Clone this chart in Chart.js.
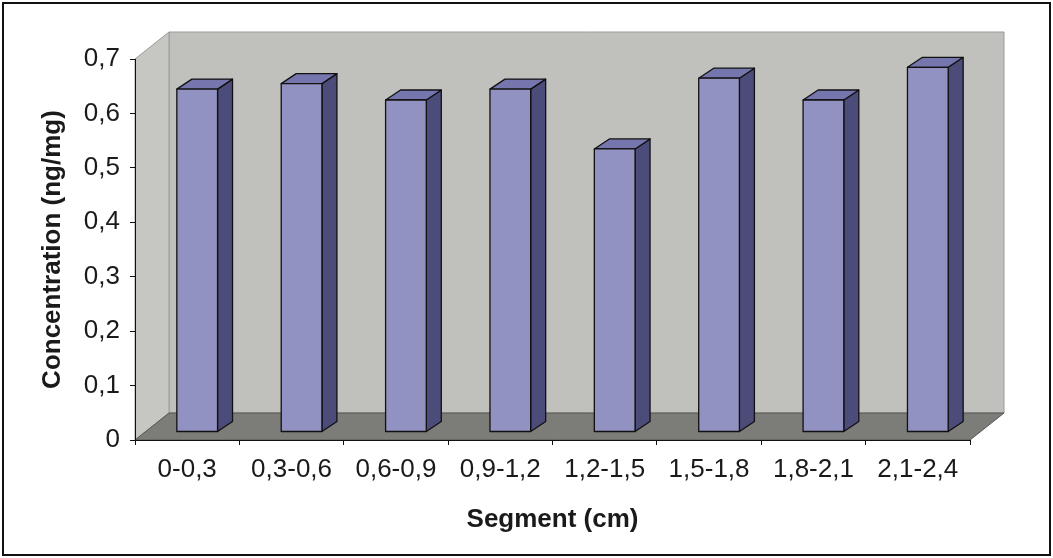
<!DOCTYPE html>
<html>
<head>
<meta charset="utf-8">
<script src="https://cdn.jsdelivr.net/npm/chart.js@4/dist/chart.umd.min.js"></script>
<style>
  html, body { margin: 0; padding: 0; background: #fff; }
  #wrap { width: 1053px; height: 558px; }
</style>
</head>
<body>
<div id="wrap"><canvas id="chart" width="1053" height="558"></canvas></div>
<script>
// data
const segments = ['0-0,3', '0,3-0,6', '0,6-0,9', '0,9-1,2', '1,2-1,5', '1,5-1,8', '1,8-2,1', '2,1-2,4'];
const concentration = [0.63, 0.64, 0.61, 0.63, 0.52, 0.65, 0.61, 0.67];
const yTickLabels = ['0', '0,1', '0,2', '0,3', '0,4', '0,5', '0,6', '0,7'];

// fake 3D look (Excel style): wall depth and bar depth in px
const WALL = { dx: 34, dy: 27 };
const BAR = { fx: 10, fy: 8, sx: 15, sy: 10 };

const COLORS = {
  back: '#c0c0bc',
  side: '#c6c6c2',
  floor: '#7c7c78',
  wallEdge: '#9a9a96',
  front: '#9292c2',
  top: '#7676ae',
  barSide: '#4c4c7a'
};

const FONT = 'Arial, "Liberation Sans", sans-serif';

function poly(ctx, pts, fill, stroke, lw) {
  ctx.beginPath();
  ctx.moveTo(pts[0][0], pts[0][1]);
  for (let i = 1; i < pts.length; i++) ctx.lineTo(pts[i][0], pts[i][1]);
  ctx.closePath();
  if (fill) { ctx.fillStyle = fill; ctx.fill(); }
  if (stroke) { ctx.strokeStyle = stroke; ctx.lineWidth = lw || 1; ctx.stroke(); }
}

const depthPlugin = {
  id: 'depth3d',

  beforeDraw(chart) {
    const { ctx, chartArea: a } = chart;
    const { dx, dy } = WALL;
    ctx.save();
    ctx.fillStyle = '#fff';
    ctx.fillRect(0, 0, chart.width, chart.height);

    // back wall
    poly(ctx, [[a.left + dx, a.top - dy], [a.right + dx, a.top - dy],
               [a.right + dx, a.bottom - dy], [a.left + dx, a.bottom - dy]],
         COLORS.back, COLORS.wallEdge, 1);
    // left wall
    poly(ctx, [[a.left, a.bottom], [a.left + dx, a.bottom - dy],
               [a.left + dx, a.top - dy], [a.left, a.top]],
         COLORS.side, COLORS.wallEdge, 1);
    // floor
    poly(ctx, [[a.left, a.bottom], [a.right, a.bottom],
               [a.right + dx, a.bottom - dy], [a.left + dx, a.bottom - dy]],
         COLORS.floor, '#555', 1);
    ctx.restore();
  },

  afterDatasetsDraw(chart) {
    const { ctx } = chart;
    const meta = chart.getDatasetMeta(0);
    ctx.save();
    ctx.lineJoin = 'round';
    meta.data.forEach(el => {
      const w = el.width;
      const l = el.x - w / 2 + BAR.fx;
      const r = el.x + w / 2 + BAR.fx;
      const t = el.y - BAR.fy;
      const b = el.base - BAR.fy;
      // side
      poly(ctx, [[r, t], [r + BAR.sx, t - BAR.sy], [r + BAR.sx, b - BAR.sy], [r, b]],
           COLORS.barSide, '#111', 1.3);
      // top
      poly(ctx, [[l, t], [l + BAR.sx, t - BAR.sy], [r + BAR.sx, t - BAR.sy], [r, t]],
           COLORS.top, '#111', 1.3);
      // front
      poly(ctx, [[l, t], [r, t], [r, b], [l, b]], COLORS.front, '#111', 1.3);
    });
    ctx.restore();
  },

  afterDraw(chart) {
    const { ctx } = chart;
    ctx.save();
    ctx.strokeStyle = '#111';
    ctx.lineWidth = 2;
    ctx.strokeRect(3, 3, chart.width - 6, chart.height - 6);
    ctx.restore();
  }
};

new Chart(document.getElementById('chart'), {
  type: 'bar',
  data: {
    labels: segments,
    datasets: [{
      data: concentration,
      backgroundColor: 'rgba(0,0,0,0)',
      borderWidth: 0,
      categoryPercentage: 1,
      barPercentage: 0.39
    }]
  },
  plugins: [depthPlugin],
  options: {
    responsive: false,
    animation: false,
    devicePixelRatio: 1,
    layout: { padding: { top: 59, right: 83, left: 0, bottom: 0 } },
    plugins: {
      legend: { display: false },
      tooltip: { enabled: false }
    },
    scales: {
      x: {
        afterFit: s => { s.height = 118; },
        border: { display: true, color: '#111', width: 1 },
        grid: { display: true, drawOnChartArea: false, drawTicks: true, tickLength: 5, color: '#111', offset: true },
        ticks: {
          color: '#1a1a1a',
          font: { family: FONT, size: 26 },
          padding: 9,
          autoSkip: false,
          maxRotation: 0
        },
        title: {
          display: true,
          text: 'Segment (cm)',
          color: '#1a1a1a',
          font: { family: FONT, size: 26, weight: 'bold' },
          padding: { top: 0, bottom: 23 }
        }
      },
      y: {
        min: 0,
        max: 0.7,
        afterFit: s => { s.width = 135; },
        border: { display: true, color: '#111', width: 1 },
        grid: { display: true, drawOnChartArea: false, drawTicks: true, tickLength: 5, color: '#111' },
        ticks: {
          stepSize: 0.1,
          color: '#1a1a1a',
          font: { family: FONT, size: 26 },
          padding: 10,
          callback: v => yTickLabels[Math.round(v * 10)]
        },
        title: {
          display: true,
          text: 'Concentration (ng/mg)',
          color: '#1a1a1a',
          font: { family: FONT, size: 26, weight: 'bold' },
          padding: { top: 37, bottom: 0 }
        }
      }
    }
  }
});
</script>
</body>
</html>
